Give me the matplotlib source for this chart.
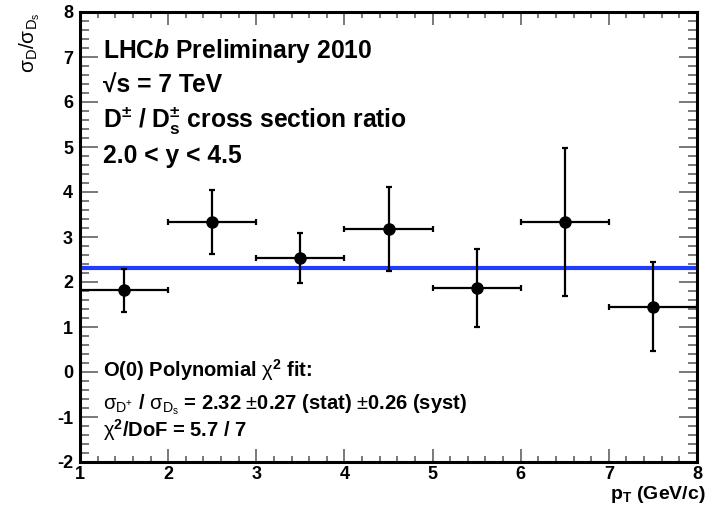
import numpy as np
from matplotlib import pyplot as plt
from matplotlib.ticker import MultipleLocator

plt.rcParams['font.family'] = ['Liberation Sans', 'DejaVu Sans']
plt.rcParams['mathtext.fontset'] = 'custom'
plt.rcParams['mathtext.rm'] = 'Liberation Sans'
plt.rcParams['mathtext.it'] = 'Liberation Sans:italic:bold'
plt.rcParams['mathtext.bf'] = 'Liberation Sans:bold'
plt.rcParams['mathtext.default'] = 'regular'
plt.rcParams['axes.unicode_minus'] = False

# pT bins and the measured ratio with its errors
pt_centres = np.array([1.5, 2.5, 3.5, 4.5, 5.5, 6.5, 7.5])
pt_half_width = np.array([0.5, 0.5, 0.5, 0.5, 0.5, 0.5, 0.5])
ratio = np.array([1.82, 3.33, 2.53, 3.18, 1.86, 3.33, 1.44])
err_low = np.array([0.49, 0.71, 0.55, 0.93, 0.85, 1.63, 0.97])
err_high = np.array([0.47, 0.71, 0.56, 0.94, 0.87, 1.64, 1.00])

fit_value = 2.32
x_range = [1, 8]

fig = plt.figure(figsize=(7.09, 5.05), dpi=100)
ax = fig.add_axes([80 / 709, 43 / 505, 617 / 709, 450 / 505])

# constant fit line
ax.plot(x_range, [fit_value, fit_value], color='#1f3dff', lw=3, zorder=2)

ax.errorbar(pt_centres, ratio, xerr=pt_half_width, yerr=[err_low, err_high],
            fmt='o', color='black', ms=8, elinewidth=1.6, capsize=2, capthick=1.6, zorder=3)

ax.set_xlim(1, 8)
ax.set_ylim(-2, 8)
ax.xaxis.set_major_locator(MultipleLocator(1))
ax.xaxis.set_minor_locator(MultipleLocator(0.2))
ax.yaxis.set_major_locator(MultipleLocator(1))
ax.yaxis.set_minor_locator(MultipleLocator(0.2))
ax.tick_params(axis='both', which='both', direction='in', top=True, right=True, width=1.1, color='#555555')
ax.tick_params(axis='y', which='major', length=13)
ax.tick_params(axis='y', which='minor', length=6.5)
ax.tick_params(axis='x', which='major', length=9.5)
ax.tick_params(axis='x', which='minor', length=4.5)
ax.tick_params(axis='x', which='major', pad=3)
ax.tick_params(axis='y', which='major', pad=5)
for lab in ax.get_xticklabels() + ax.get_yticklabels():
    lab.set_fontsize(13)
    lab.set_fontweight('bold')
for sp in ax.spines.values():
    sp.set_linewidth(2.2)

# axis titles, ROOT style
ax.text(1.0146, -0.083, r'p$_{T}$ (GeV/c)', transform=ax.transAxes, ha='right', va='baseline',
        fontsize=14, fontweight='bold')
ax.text(-0.081, 0.998, r'$\sigma_{D}/\sigma_{D_{s}}$', transform=ax.transAxes, rotation=90,
        ha='center', va='top', fontsize=15)

# upper annotation block
tx = 0.037
big = 17.7
ax.text(tx, 0.898, r'LHC$\it{b}$ Preliminary 2010', transform=ax.transAxes, fontsize=big, fontweight='bold')
ax.text(tx, 0.820, '\u221as = 7 TeV', transform=ax.transAxes, fontsize=big, fontweight='bold')
ax.text(tx, 0.744, r'D$^{\pm}$ / D$_{s}^{\pm}$ cross section ratio', transform=ax.transAxes,
        fontsize=big, fontweight='bold')
ax.text(tx, 0.664, '2.0 < y < 4.5', transform=ax.transAxes, fontsize=big, fontweight='bold')

# fit result block
small = 14.5
ax.text(tx, 0.189, r'O(0) Polynomial $\mathrm{\chi}^{2}$ fit:', transform=ax.transAxes,
        fontsize=small, fontweight='bold')
ax.text(tx, 0.116, r'$\mathrm{\sigma_{D^{+}}}$ / $\mathrm{\sigma_{D_{s}}}$ = 2.32 $\mathrm{\pm}$0.27 (stat) $\mathrm{\pm}$0.26 (syst)',
        transform=ax.transAxes, fontsize=small, fontweight='bold')
ax.text(tx, 0.056, r'$\mathrm{\chi}^{2}$/DoF = 5.7 / 7', transform=ax.transAxes, fontsize=small, fontweight='bold')

fig.savefig('out.png', dpi=100)
